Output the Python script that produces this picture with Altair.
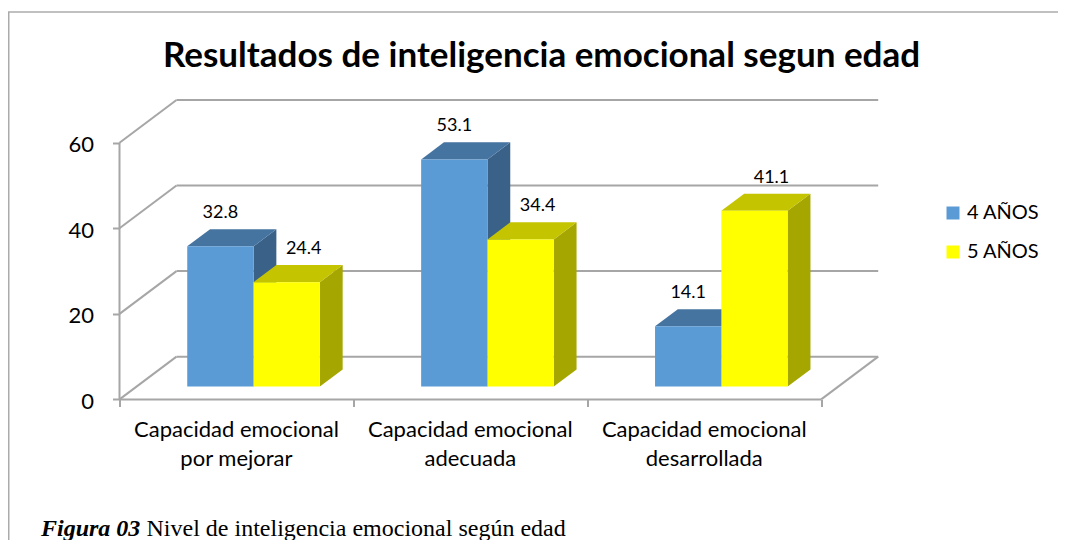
import altair as alt
import pandas as pd

# ---------------- data ----------------
categories = [
    "Capacidad emocional\npor mejorar",
    "Capacidad emocional\nadecuada",
    "Capacidad emocional\ndesarrollada",
]
series = ["4 AÑOS", "5 AÑOS"]
values_4 = [32.8, 53.1, 14.1]
values_5 = [24.4, 34.4, 41.1]
y_ticks = [0, 20, 40, 60]
title_text = "Resultados de inteligencia emocional segun edad"
caption_bold = "Figura 03"
caption_rest = "Nivel de inteligencia emocional según edad"

# ---------------- style / geometry ----------------
FRONT_COLORS = ["#5B9BD5", "#FFFF00"]
TOP_COLORS = ["#4674A1", "#C4C400"]
SIDE_COLORS = ["#3A6188", "#A6A600"]
GRID = "#A6A6A6"
FRAME = "#ABABAB"
FONT = "Lato"

N = len(categories)
DEPTH_X = 0.2437   # 3-D depth, in category units
DEPTH_Y = 10.0     # 3-D depth, in value units
Y_MAX = 70
BAR_W = 0.2835
GAP = (1 - 2 * BAR_W) / 2
FRONT_F, BACK_F = 0.3, 0.7

W, H = 758.7, 299.4
OX, OY = 119.5, 100.0          # page position of plot origin
PAD_L, PAD_T = OX - 8, OY - 8
TOTAL_W, TOTAL_H = 1050, 532


def px(x):
    return x - OX


def py(y):
    return y - OY


xs = alt.Scale(domain=[0, N + DEPTH_X], nice=False, zero=False, padding=0)
ys = alt.Scale(domain=[0, Y_MAX], nice=False, zero=False, padding=0)

# ---------------- derived tables ----------------
grid_rows = []
for v in y_ticks:
    grid_rows.append(dict(x=DEPTH_X, y=v + DEPTH_Y, x2=N + DEPTH_X, y2=v + DEPTH_Y))
    grid_rows.append(dict(x=0, y=v, x2=DEPTH_X, y2=v + DEPTH_Y))
grid_rows.append(dict(x=0, y=0, x2=N, y2=0))
grid_rows.append(dict(x=N, y=0, x2=N + DEPTH_X, y2=DEPTH_Y))
grid_rows.append(dict(x=0, y=0, x2=0, y2=max(y_ticks)))
grid_df = pd.DataFrame(grid_rows)

yf, yb = FRONT_F * DEPTH_Y, BACK_F * DEPTH_Y
fx, ddx = FRONT_F * DEPTH_X, (BACK_F - FRONT_F) * DEPTH_X
front_rows, side_rows, top_rows = [], [], []
for i in range(N):
    for s, vals in enumerate([values_4, values_5]):
        v = vals[i]
        x0 = i + fx + GAP + s * BAR_W
        x1 = x0 + BAR_W
        bid = f"{i}-{s}"
        front_rows.append(dict(bar=bid, series=series[s], x0=x0, x1=x1,
                               y0=yf, y1=yf + v, cx=(x0 + x1) / 2, value=v))
        side_rows.append(dict(bar=bid, series=series[s], x=x1, lo=yf, hi=yf + v))
        side_rows.append(dict(bar=bid, series=series[s], x=x1 + ddx, lo=yb, hi=yb + v))
        top_rows.append(dict(bar=bid, series=series[s], y=yf + v, xl=x0, xr=x1))
        top_rows.append(dict(bar=bid, series=series[s], y=yb + v, xl=x0 + ddx, xr=x1 + ddx))
front_df = pd.DataFrame(front_rows)
side_df = pd.DataFrame(side_rows)
top_df = pd.DataFrame(top_rows)
cat_df = pd.DataFrame(dict(cat=categories, x=[i + 0.5 for i in range(N)], y=[0] * N))
one = alt.Data(values=[{"k": 1}])

# ---------------- axes (shared by every layer) ----------------
y_axis = alt.Axis(values=y_ticks, domain=False, grid=False, ticks=True, tickSize=7,
                  tickColor=GRID, tickWidth=2, labelFont=FONT, labelFontSize=22,
                  labelColor="black", labelPadding=19, labelOffset=2, title=None)
x_axis = alt.Axis(values=list(range(N + 1)), domain=False, grid=False, labels=False,
                  ticks=True, tickSize=7, tickColor=GRID, tickWidth=2, title=None)


def X(f, **kw):
    return alt.X(f, scale=xs, axis=x_axis, **kw)


def Y(f, **kw):
    return alt.Y(f, scale=ys, axis=y_axis, **kw)


# ---------------- layers ----------------
grid = alt.Chart(grid_df).mark_rule(color=GRID, strokeWidth=2).encode(
    x=X("x:Q"), y=Y("y:Q"), x2="x2:Q", y2="y2:Q",
)

sides = alt.Chart(side_df).mark_area(orient="vertical", interpolate="linear").encode(
    x=X("x:Q"),
    y=Y("lo:Q", stack=None),
    y2="hi:Q",
    color=alt.Color("series:N", scale=alt.Scale(domain=series, range=SIDE_COLORS), legend=None),
    detail="bar:N",
)

tops = alt.Chart(top_df).mark_area(orient="horizontal", interpolate="linear").encode(
    y=Y("y:Q"),
    x=X("xl:Q", stack=None),
    x2="xr:Q",
    color=alt.Color("series:N", scale=alt.Scale(domain=series, range=TOP_COLORS), legend=None),
    detail="bar:N",
)

fronts = alt.Chart(front_df).mark_rect().encode(
    x=X("x0:Q"),
    x2="x1:Q",
    y=Y("y0:Q"),
    y2="y1:Q",
    color=alt.Color(
        "series:N",
        scale=alt.Scale(domain=series, range=FRONT_COLORS),
        legend=alt.Legend(title=None, orient="none", legendX=px(943), legendY=py(203),
                          symbolType="square", symbolSize=169, symbolStrokeWidth=0,
                          labelFont=FONT, labelFontSize=20, labelColor="black",
                          labelOffset=4, rowPadding=19, padding=0),
    ),
)


def value_labels(s, dx):
    return alt.Chart(front_df).transform_filter(
        alt.datum.series == series[s]
    ).mark_text(font=FONT, fontSize=18, color="black", align="center",
                baseline="middle", dy=-33, dx=dx).encode(
        x=X("cx:Q"),
        y=Y("y1:Q"),
        text=alt.Text("value:Q", format=".1f"),
    )


cat_labels = alt.Chart(cat_df).mark_text(
    font=FONT, fontSize=22, color="black", align="center", baseline="alphabetic",
    dy=37.6, lineBreak="\n", lineHeight=29,
).encode(
    x=X("x:Q"),
    y=Y("y:Q"),
    text="cat:N",
)

title = alt.Chart(one).mark_text(
    text=title_text, font=FONT, fontWeight="bold", fontSize=35, color="black",
    align="center", baseline="alphabetic",
).encode(x=alt.value(px(541.5)), y=alt.value(py(67)))

cap1 = alt.Chart(one).mark_text(
    text=caption_bold, font="Liberation Serif", fontWeight="bold", fontStyle="italic",
    fontSize=24, color="black", align="left", baseline="alphabetic",
).encode(x=alt.value(px(41)), y=alt.value(py(536)))

cap2 = alt.Chart(one).mark_text(
    text=caption_rest, font="Liberation Serif", fontSize=24, color="black",
    align="left", baseline="alphabetic",
).encode(x=alt.value(px(146.5)), y=alt.value(py(536)))

frame_top = alt.Chart(one).mark_rule(color=FRAME, strokeWidth=1.5).encode(
    x=alt.value(px(8)), x2=alt.value(px(8 + TOTAL_W)), y=alt.value(py(12)))
frame_left = alt.Chart(one).mark_rule(color=FRAME, strokeWidth=1.5).encode(
    x=alt.value(px(8.75)), y=alt.value(py(12)), y2=alt.value(py(8 + TOTAL_H)))

chart = alt.layer(
    grid, sides, tops, fronts,
    value_labels(0, 0), value_labels(1, 17), cat_labels, title, cap1, cap2,
    frame_top, frame_left,
).resolve_scale(color="independent").properties(
    width=W, height=H,
    autosize=alt.AutoSizeParams(type="none"),
    padding={"left": PAD_L, "top": PAD_T, "right": TOTAL_W - PAD_L - W,
             "bottom": TOTAL_H - PAD_T - H},
    background="white",
).configure_view(stroke=None)

chart.save("out.html", embed_options={"renderer": "svg", "actions": False})
